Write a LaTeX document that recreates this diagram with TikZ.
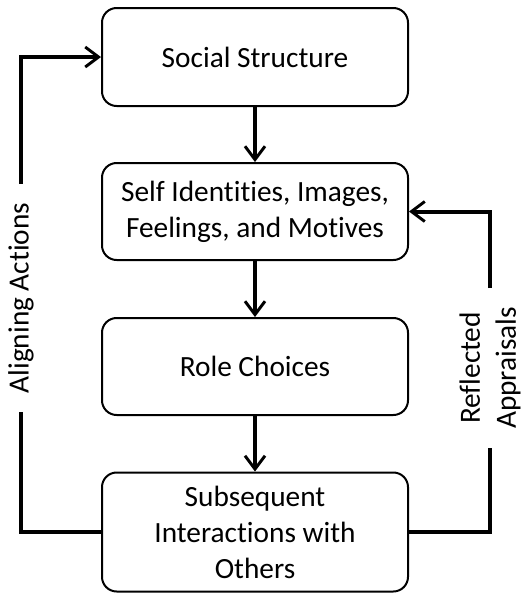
\documentclass[tikz,border=0pt]{standalone}
\usepackage{fontspec}
\setmainfont{Carlito}[Ligatures=NoCommon]
\usetikzlibrary{arrows.meta}

\tikzset{
  stage/.style = {draw, line width=1.5pt, rounded corners=11pt, align=center,
                  minimum width=229.5pt, inner sep=0pt},
  flow/.style  = {line width=3pt, -{Straight Barb[length=10pt,width=15pt,line width=2.2pt]}},
  link/.style  = {line width=3pt},
  sidelabel/.style = {rotate=90, align=center, inner xsep=14pt, inner ysep=0pt}
}

\begin{document}
\begin{tikzpicture}[x=0.75pt, y=-0.75pt, font=\fontsize{22}{27}\selectfont]
   \useasboundingbox (0,0) rectangle (528,593);

   % the four stages
   \node[stage, minimum height=73.5pt] (social) at (255,57) {Social Structure};
   \node[stage, minimum height=72.75pt] (self) at (255,211.5) {Self Identities, Images,\\Feelings, and Motives};
   \node[stage, minimum height=72.75pt] (role) at (255,366.5) {Role Choices};
   \node[stage, minimum height=89.25pt] (subseq) at (255,532) {Subsequent\\Interactions with\\Others};

   % side labels
   \node[sidelabel] (align) at (21,298) {Aligning Actions};
   \node[sidelabel] (reflect) at (490,368) {Reflected\\Appraisals};

   % downward flow
   \draw[flow] (social) -- (self);
   \draw[flow] (self) -- (role);
   \draw[flow] (role) -- (subseq);

   % feedback loops
   \draw[link] (subseq.west) -| (align.west);
   \draw[flow] (align.east) |- (social.west);
   \draw[link] (subseq.east) -| (reflect.west);
   \draw[flow] (reflect.east) |- (self.east);
\end{tikzpicture}
\end{document}
